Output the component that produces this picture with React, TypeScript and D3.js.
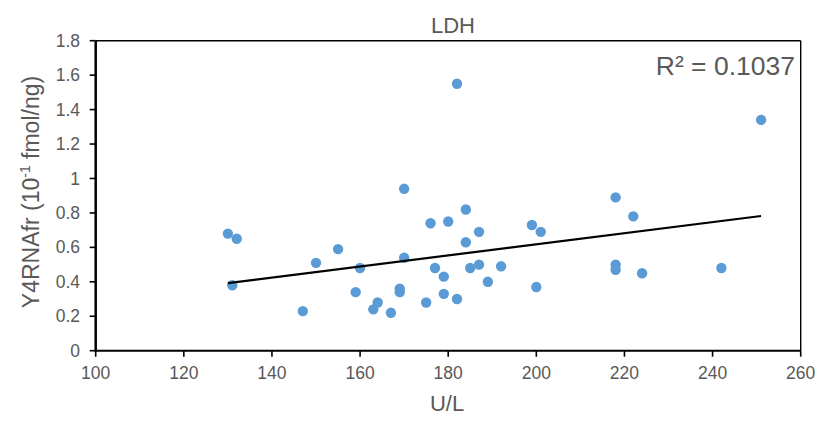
import React from "react";
import * as d3 from "d3";

const ldh: number[] = [130, 132, 131, 147, 150, 155, 159, 160, 163, 164, 167, 169, 169, 170, 170, 175, 176, 177, 179, 179, 180, 182, 182, 184, 184, 185, 187, 187, 189, 192, 199, 200, 201, 218, 218, 218, 222, 224, 242, 251];
const y4: number[] = [0.68, 0.65, 0.38, 0.23, 0.51, 0.59, 0.34, 0.48, 0.24, 0.28, 0.22, 0.36, 0.34, 0.54, 0.94, 0.28, 0.74, 0.48, 0.43, 0.33, 0.75, 0.30, 1.55, 0.82, 0.63, 0.48, 0.69, 0.50, 0.40, 0.49, 0.73, 0.37, 0.69, 0.89, 0.50, 0.47, 0.78, 0.45, 0.48, 1.34];
const xTicks: number[] = [100, 120, 140, 160, 180, 200, 220, 240, 260];
const yTicks: number[] = [0, 0.2, 0.4, 0.6, 0.8, 1, 1.2, 1.4, 1.6, 1.8];
const title = "LDH";
const xLabel = "U/L";
const r2Label = "R² = 0.1037";

const W = 820, H = 432;
const L = 95.7, R = 800.7, T = 40.7, B = 350.7;
const FONT = "'Liberation Sans', Arial, sans-serif";
const GREY = "#595959";

export default function App() {
  const x = d3.scaleLinear().domain([100, 260]).range([L, R]);
  const y = d3.scaleLinear().domain([0, 1.8]).range([B, T]);

  const n = ldh.length;
  const mx = d3.mean(ldh)!;
  const my = d3.mean(y4)!;
  let sxy = 0, sxx = 0;
  for (let i = 0; i < n; i++) {
    sxy += (ldh[i] - mx) * (y4[i] - my);
    sxx += (ldh[i] - mx) ** 2;
  }
  const slope = sxy / sxx;
  const icpt = my - slope * mx;
  const x0 = d3.min(ldh)!, x1 = d3.max(ldh)!;
  const line = d3.line<number>().x((d) => x(d)).y((d) => y(icpt + slope * d));

  return (
    <svg width={W} height={H} style={{ position: "absolute", left: 0, top: 0, background: "#fff" }} fontFamily={FONT}>
      <rect x={0} y={0} width={W} height={H} fill="#fff" />
      <text x={453} y={33} textAnchor="middle" fontSize={22} fill={GREY}>{title}</text>
      {/* box */}
      <line x1={L} x2={R} y1={T} y2={T} stroke="#000" strokeWidth={1.4} />
      <line x1={R} x2={R} y1={T} y2={B} stroke="#000" strokeWidth={1.4} />
      {/* y ticks */}
      {yTicks.map((t) => (
        <g key={"y" + t}>
          <line x1={L - 6} x2={L} y1={y(t)} y2={y(t)} stroke="#000" strokeWidth={1.6} />
          <text x={80} y={y(t)} dy="0.35em" textAnchor="end" fontSize={17.5} fill={GREY}>{d3.format("~g")(t)}</text>
        </g>
      ))}
      {xTicks.map((t) => (
        <g key={"x" + t}>
          <line x1={x(t)} x2={x(t)} y1={B} y2={B + 6} stroke="#000" strokeWidth={1.6} />
          <text x={x(t)} y={379} textAnchor="middle" fontSize={17.5} fill={GREY}>{t}</text>
        </g>
      ))}
      <line x1={L} x2={R} y1={B} y2={B} stroke="#000" strokeWidth={2} />
      <line x1={L} x2={L} y1={T} y2={B + 1} stroke="#000" strokeWidth={2.5} />
      {/* points */}
      {ldh.map((v, i) => (
        <circle key={i} cx={x(v)} cy={y(y4[i])} r={5.2} fill="#5B9BD5" />
      ))}
      <path d={line([x0, x1]) || ""} fill="none" stroke="#000" strokeWidth={2.2} />
      <text x={795} y={75} textAnchor="end" fontSize={26.5} fill={GREY}>{r2Label}</text>
      <text x={447} y={411} textAnchor="middle" fontSize={22} fill={GREY}>{xLabel}</text>
      <text transform="translate(39,192) rotate(-90)" textAnchor="middle" fontSize={23} fill={GREY}>
        Y4RNAfr (10<tspan fontSize={14} dy={-9}>-1</tspan><tspan dy={9}> fmol/ng)</tspan>
      </text>
    </svg>
  );
}
